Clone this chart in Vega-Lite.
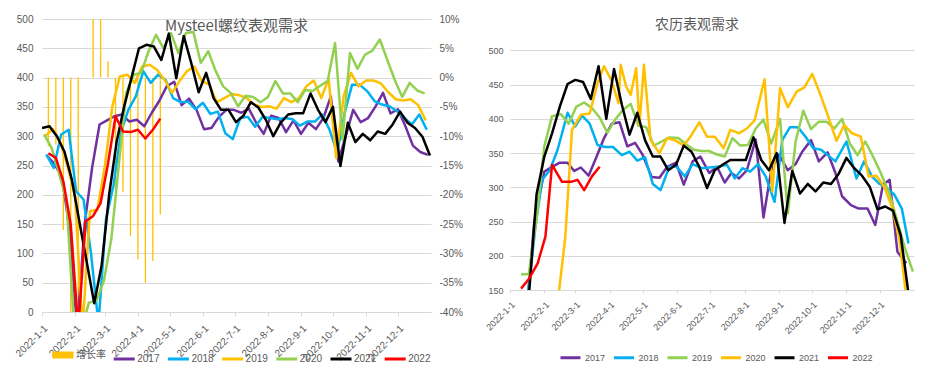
{
"$schema": "https://vega.github.io/schema/vega-lite/v6.json",
"background": "white",
"padding": {"left": 12, "top": 14, "right": 5, "bottom": 5},
"spacing": 17,
"config": {
  "font": "Liberation Sans, Noto Sans CJK SC, sans-serif",
  "view": {"stroke": null},
  "axis": {"labelColor": "#595959", "gridColor": "#D9D9D9", "domainColor": "#D9D9D9", "tickColor": "#D9D9D9", "title": null}
},
"datasets": {
"growth": [
{"s":"增长率","d":6,"v":-0.117},{"s":"增长率","d":13,"v":-0.114},{"s":"增长率","d":20,"v":-0.26},{"s":"增长率","d":27,"v":-0.46},{"s":"增长率","d":34,"v":-0.6},{"s":"增长率","d":48,"v":0.5},{"s":"增长率","d":55,"v":0.8},{"s":"增长率","d":62,"v":0.028},{"s":"增长率","d":69,"v":-0.19},{"s":"增长率","d":76,"v":-0.195},{"s":"增长率","d":83,"v":-0.27},{"s":"增长率","d":90,"v":-0.31},{"s":"增长率","d":97,"v":-0.35},{"s":"增长率","d":104,"v":-0.313},{"s":"增长率","d":111,"v":-0.233}
],
"L": [
{"s":"2017","d":5,"v":266},{"s":"2017","d":12,"v":252},{"s":"2017","d":19,"v":229},{"s":"2017","d":26,"v":138},{"s":"2017","d":33,"v":-30},{"s":"2017","d":40,"v":150},{"s":"2017","d":47,"v":246},{"s":"2017","d":54,"v":320},{"s":"2017","d":61,"v":327},{"s":"2017","d":68,"v":334},{"s":"2017","d":75,"v":337},{"s":"2017","d":82,"v":325},{"s":"2017","d":89,"v":328},{"s":"2017","d":96,"v":317},{"s":"2017","d":103,"v":340},{"s":"2017","d":110,"v":360},{"s":"2017","d":117,"v":385},{"s":"2017","d":124,"v":393},{"s":"2017","d":131,"v":353},{"s":"2017","d":138,"v":364},{"s":"2017","d":145,"v":345},{"s":"2017","d":152,"v":312},{"s":"2017","d":159,"v":314},{"s":"2017","d":166,"v":333},{"s":"2017","d":173,"v":345},{"s":"2017","d":180,"v":345},{"s":"2017","d":187,"v":340},{"s":"2017","d":194,"v":347},{"s":"2017","d":201,"v":323},{"s":"2017","d":208,"v":304},{"s":"2017","d":215,"v":335},{"s":"2017","d":222,"v":331},{"s":"2017","d":229,"v":307},{"s":"2017","d":236,"v":327},{"s":"2017","d":243,"v":304},{"s":"2017","d":250,"v":323},{"s":"2017","d":257,"v":312},{"s":"2017","d":264,"v":331},{"s":"2017","d":271,"v":368},{"s":"2017","d":278,"v":257},{"s":"2017","d":285,"v":300},{"s":"2017","d":292,"v":345},{"s":"2017","d":299,"v":324},{"s":"2017","d":306,"v":331},{"s":"2017","d":313,"v":351},{"s":"2017","d":320,"v":374},{"s":"2017","d":327,"v":339},{"s":"2017","d":334,"v":346},{"s":"2017","d":341,"v":317},{"s":"2017","d":348,"v":284},{"s":"2017","d":355,"v":273},{"s":"2017","d":362,"v":268},
{"s":"2018","d":4,"v":269},{"s":"2018","d":11,"v":246},{"s":"2018","d":18,"v":303},{"s":"2018","d":25,"v":311},{"s":"2018","d":32,"v":206},{"s":"2018","d":39,"v":192},{"s":"2018","d":46,"v":100},{"s":"2018","d":53,"v":-20},{"s":"2018","d":60,"v":158},{"s":"2018","d":67,"v":215},{"s":"2018","d":74,"v":306},{"s":"2018","d":81,"v":345},{"s":"2018","d":88,"v":368},{"s":"2018","d":95,"v":411},{"s":"2018","d":102,"v":391},{"s":"2018","d":109,"v":405},{"s":"2018","d":116,"v":396},{"s":"2018","d":123,"v":365},{"s":"2018","d":130,"v":358},{"s":"2018","d":137,"v":359},{"s":"2018","d":144,"v":346},{"s":"2018","d":151,"v":357},{"s":"2018","d":158,"v":338},{"s":"2018","d":165,"v":342},{"s":"2018","d":172,"v":305},{"s":"2018","d":179,"v":295},{"s":"2018","d":186,"v":331},{"s":"2018","d":193,"v":333},{"s":"2018","d":200,"v":316},{"s":"2018","d":207,"v":333},{"s":"2018","d":214,"v":331},{"s":"2018","d":221,"v":329},{"s":"2018","d":228,"v":331},{"s":"2018","d":235,"v":329},{"s":"2018","d":242,"v":318},{"s":"2018","d":249,"v":325},{"s":"2018","d":256,"v":325},{"s":"2018","d":263,"v":337},{"s":"2018","d":270,"v":310},{"s":"2018","d":277,"v":272},{"s":"2018","d":284,"v":340},{"s":"2018","d":291,"v":388},{"s":"2018","d":298,"v":388},{"s":"2018","d":305,"v":377},{"s":"2018","d":312,"v":360},{"s":"2018","d":319,"v":354},{"s":"2018","d":326,"v":351},{"s":"2018","d":333,"v":343},{"s":"2018","d":340,"v":331},{"s":"2018","d":347,"v":320},{"s":"2018","d":354,"v":337},{"s":"2018","d":361,"v":311},
{"s":"2019","d":3,"v":300},{"s":"2019","d":10,"v":312},{"s":"2019","d":17,"v":290},{"s":"2019","d":24,"v":249},{"s":"2019","d":31,"v":198},{"s":"2019","d":38,"v":-30},{"s":"2019","d":45,"v":172},{"s":"2019","d":52,"v":175},{"s":"2019","d":59,"v":249},{"s":"2019","d":66,"v":351},{"s":"2019","d":73,"v":402},{"s":"2019","d":80,"v":405},{"s":"2019","d":87,"v":391},{"s":"2019","d":94,"v":419},{"s":"2019","d":101,"v":422},{"s":"2019","d":108,"v":413},{"s":"2019","d":115,"v":396},{"s":"2019","d":122,"v":374},{"s":"2019","d":129,"v":394},{"s":"2019","d":136,"v":411},{"s":"2019","d":143,"v":419},{"s":"2019","d":150,"v":394},{"s":"2019","d":157,"v":388},{"s":"2019","d":164,"v":358},{"s":"2019","d":171,"v":365},{"s":"2019","d":178,"v":372},{"s":"2019","d":185,"v":370},{"s":"2019","d":192,"v":365},{"s":"2019","d":199,"v":354},{"s":"2019","d":206,"v":350},{"s":"2019","d":213,"v":351},{"s":"2019","d":220,"v":347},{"s":"2019","d":227,"v":365},{"s":"2019","d":234,"v":358},{"s":"2019","d":241,"v":365},{"s":"2019","d":248,"v":385},{"s":"2019","d":255,"v":395},{"s":"2019","d":262,"v":365},{"s":"2019","d":269,"v":398},{"s":"2019","d":276,"v":263},{"s":"2019","d":283,"v":368},{"s":"2019","d":290,"v":408},{"s":"2019","d":297,"v":385},{"s":"2019","d":304,"v":395},{"s":"2019","d":311,"v":395},{"s":"2019","d":318,"v":390},{"s":"2019","d":325,"v":375},{"s":"2019","d":332,"v":363},{"s":"2019","d":339,"v":361},{"s":"2019","d":346,"v":363},{"s":"2019","d":353,"v":353},{"s":"2019","d":360,"v":327},
{"s":"2020","d":2,"v":303},{"s":"2020","d":9,"v":280},{"s":"2020","d":16,"v":237},{"s":"2020","d":23,"v":190},{"s":"2020","d":30,"v":-20},{"s":"2020","d":37,"v":-30},{"s":"2020","d":44,"v":16},{"s":"2020","d":51,"v":19},{"s":"2020","d":58,"v":53},{"s":"2020","d":65,"v":124},{"s":"2020","d":72,"v":250},{"s":"2020","d":79,"v":374},{"s":"2020","d":86,"v":405},{"s":"2020","d":93,"v":408},{"s":"2020","d":100,"v":445},{"s":"2020","d":107,"v":473},{"s":"2020","d":114,"v":450},{"s":"2020","d":121,"v":476},{"s":"2020","d":128,"v":442},{"s":"2020","d":135,"v":476},{"s":"2020","d":142,"v":478},{"s":"2020","d":149,"v":425},{"s":"2020","d":156,"v":445},{"s":"2020","d":163,"v":411},{"s":"2020","d":170,"v":385},{"s":"2020","d":177,"v":374},{"s":"2020","d":184,"v":351},{"s":"2020","d":191,"v":369},{"s":"2020","d":198,"v":367},{"s":"2020","d":205,"v":358},{"s":"2020","d":212,"v":367},{"s":"2020","d":219,"v":394},{"s":"2020","d":226,"v":373},{"s":"2020","d":233,"v":373},{"s":"2020","d":240,"v":358},{"s":"2020","d":247,"v":379},{"s":"2020","d":254,"v":377},{"s":"2020","d":261,"v":386},{"s":"2020","d":268,"v":394},{"s":"2020","d":275,"v":459},{"s":"2020","d":282,"v":294},{"s":"2020","d":289,"v":442},{"s":"2020","d":296,"v":415},{"s":"2020","d":303,"v":439},{"s":"2020","d":310,"v":446},{"s":"2020","d":317,"v":465},{"s":"2020","d":324,"v":430},{"s":"2020","d":331,"v":396},{"s":"2020","d":338,"v":367},{"s":"2020","d":345,"v":391},{"s":"2020","d":352,"v":378},{"s":"2020","d":359,"v":373},
{"s":"2021","d":0,"v":314},{"s":"2021","d":7,"v":317},{"s":"2021","d":14,"v":300},{"s":"2021","d":21,"v":274},{"s":"2021","d":28,"v":226},{"s":"2021","d":35,"v":155},{"s":"2021","d":42,"v":85},{"s":"2021","d":49,"v":15},{"s":"2021","d":56,"v":80},{"s":"2021","d":63,"v":200},{"s":"2021","d":70,"v":290},{"s":"2021","d":77,"v":350},{"s":"2021","d":84,"v":400},{"s":"2021","d":91,"v":450},{"s":"2021","d":98,"v":456},{"s":"2021","d":105,"v":453},{"s":"2021","d":112,"v":430},{"s":"2021","d":119,"v":475},{"s":"2021","d":126,"v":399},{"s":"2021","d":133,"v":471},{"s":"2021","d":140,"v":425},{"s":"2021","d":147,"v":375},{"s":"2021","d":154,"v":408},{"s":"2021","d":161,"v":365},{"s":"2021","d":168,"v":345},{"s":"2021","d":175,"v":345},{"s":"2021","d":182,"v":324},{"s":"2021","d":189,"v":335},{"s":"2021","d":196,"v":358},{"s":"2021","d":203,"v":349},{"s":"2021","d":210,"v":328},{"s":"2021","d":217,"v":300},{"s":"2021","d":224,"v":323},{"s":"2021","d":231,"v":337},{"s":"2021","d":238,"v":339},{"s":"2021","d":245,"v":339},{"s":"2021","d":252,"v":373},{"s":"2021","d":259,"v":345},{"s":"2021","d":266,"v":324},{"s":"2021","d":273,"v":350},{"s":"2021","d":280,"v":249},{"s":"2021","d":287,"v":323},{"s":"2021","d":294,"v":290},{"s":"2021","d":301,"v":304},{"s":"2021","d":308,"v":293},{"s":"2021","d":315,"v":308},{"s":"2021","d":322,"v":304},{"s":"2021","d":329,"v":320},{"s":"2021","d":336,"v":342},{"s":"2021","d":343,"v":323},{"s":"2021","d":350,"v":314},{"s":"2021","d":357,"v":299},{"s":"2021","d":364,"v":267},
{"s":"2022","d":6,"v":271},{"s":"2022","d":13,"v":263},{"s":"2022","d":20,"v":223},{"s":"2022","d":27,"v":149},{"s":"2022","d":34,"v":-30},{"s":"2022","d":41,"v":155},{"s":"2022","d":48,"v":164},{"s":"2022","d":55,"v":186},{"s":"2022","d":62,"v":254},{"s":"2022","d":69,"v":334},{"s":"2022","d":76,"v":308},{"s":"2022","d":83,"v":307},{"s":"2022","d":90,"v":311},{"s":"2022","d":97,"v":296},{"s":"2022","d":104,"v":311},{"s":"2022","d":111,"v":330}
],
"R": [
{"s":"2017","d":15,"v":120},{"s":"2017","d":22,"v":250},{"s":"2017","d":31,"v":323},{"s":"2017","d":38,"v":330},{"s":"2017","d":45,"v":336},{"s":"2017","d":52,"v":336},{"s":"2017","d":58,"v":324},{"s":"2017","d":64,"v":329},{"s":"2017","d":71,"v":317},{"s":"2017","d":78,"v":344},{"s":"2017","d":85,"v":372},{"s":"2017","d":92,"v":393},{"s":"2017","d":99,"v":395},{"s":"2017","d":106,"v":360},{"s":"2017","d":113,"v":365},{"s":"2017","d":120,"v":347},{"s":"2017","d":128,"v":315},{"s":"2017","d":135,"v":314},{"s":"2017","d":142,"v":330},{"s":"2017","d":150,"v":336},{"s":"2017","d":157,"v":304},{"s":"2017","d":165,"v":338},{"s":"2017","d":172,"v":345},{"s":"2017","d":180,"v":321},{"s":"2017","d":187,"v":330},{"s":"2017","d":194,"v":307},{"s":"2017","d":200,"v":321},{"s":"2017","d":207,"v":313},{"s":"2017","d":214,"v":325},{"s":"2017","d":222,"v":370},{"s":"2017","d":229,"v":256},{"s":"2017","d":236,"v":325},{"s":"2017","d":243,"v":348},{"s":"2017","d":251,"v":325},{"s":"2017","d":258,"v":334},{"s":"2017","d":264,"v":352},{"s":"2017","d":272,"v":369},{"s":"2017","d":279,"v":338},{"s":"2017","d":287,"v":351},{"s":"2017","d":294,"v":321},{"s":"2017","d":300,"v":287},{"s":"2017","d":308,"v":274},{"s":"2017","d":315,"v":269},{"s":"2017","d":323,"v":269},{"s":"2017","d":330,"v":245},{"s":"2017","d":337,"v":304},{"s":"2017","d":343,"v":311},{"s":"2017","d":350,"v":206},{"s":"2017","d":358,"v":189},
{"s":"2018","d":16,"v":140},{"s":"2018","d":23,"v":243},{"s":"2018","d":29,"v":311},{"s":"2018","d":36,"v":325},{"s":"2018","d":43,"v":355},{"s":"2018","d":52,"v":409},{"s":"2018","d":59,"v":389},{"s":"2018","d":65,"v":405},{"s":"2018","d":72,"v":393},{"s":"2018","d":79,"v":362},{"s":"2018","d":86,"v":359},{"s":"2018","d":93,"v":359},{"s":"2018","d":101,"v":347},{"s":"2018","d":108,"v":352},{"s":"2018","d":115,"v":339},{"s":"2018","d":122,"v":344},{"s":"2018","d":129,"v":305},{"s":"2018","d":136,"v":296},{"s":"2018","d":144,"v":330},{"s":"2018","d":150,"v":331},{"s":"2018","d":158,"v":316},{"s":"2018","d":165,"v":334},{"s":"2018","d":173,"v":328},{"s":"2018","d":180,"v":329},{"s":"2018","d":188,"v":330},{"s":"2018","d":196,"v":333},{"s":"2018","d":203,"v":313},{"s":"2018","d":210,"v":328},{"s":"2018","d":217,"v":323},{"s":"2018","d":224,"v":334},{"s":"2018","d":231,"v":316},{"s":"2018","d":239,"v":279},{"s":"2018","d":246,"v":369},{"s":"2018","d":253,"v":388},{"s":"2018","d":260,"v":388},{"s":"2018","d":267,"v":374},{"s":"2018","d":274,"v":357},{"s":"2018","d":281,"v":355},{"s":"2018","d":288,"v":346},{"s":"2018","d":294,"v":338},{"s":"2018","d":304,"v":367},{"s":"2018","d":313,"v":313},{"s":"2018","d":320,"v":338},{"s":"2018","d":327,"v":316},{"s":"2018","d":333,"v":306},{"s":"2018","d":340,"v":299},{"s":"2018","d":347,"v":290},{"s":"2018","d":354,"v":269},{"s":"2018","d":360,"v":218},
{"s":"2019","d":10,"v":173},{"s":"2019","d":17,"v":173},{"s":"2019","d":24,"v":255},{"s":"2019","d":31,"v":360},{"s":"2019","d":38,"v":404},{"s":"2019","d":46,"v":407},{"s":"2019","d":53,"v":393},{"s":"2019","d":60,"v":418},{"s":"2019","d":67,"v":424},{"s":"2019","d":74,"v":416},{"s":"2019","d":81,"v":402},{"s":"2019","d":88,"v":380},{"s":"2019","d":95,"v":399},{"s":"2019","d":102,"v":413},{"s":"2019","d":109,"v":422},{"s":"2019","d":116,"v":390},{"s":"2019","d":123,"v":388},{"s":"2019","d":130,"v":361},{"s":"2019","d":137,"v":367},{"s":"2019","d":144,"v":373},{"s":"2019","d":152,"v":372},{"s":"2019","d":159,"v":363},{"s":"2019","d":166,"v":355},{"s":"2019","d":173,"v":353},{"s":"2019","d":180,"v":353},{"s":"2019","d":187,"v":348},{"s":"2019","d":194,"v":345},{"s":"2019","d":201,"v":372},{"s":"2019","d":208,"v":361},{"s":"2019","d":215,"v":362},{"s":"2019","d":222,"v":386},{"s":"2019","d":229,"v":399},{"s":"2019","d":236,"v":364},{"s":"2019","d":244,"v":400},{"s":"2019","d":251,"v":262},{"s":"2019","d":258,"v":367},{"s":"2019","d":265,"v":412},{"s":"2019","d":272,"v":385},{"s":"2019","d":279,"v":396},{"s":"2019","d":286,"v":396},{"s":"2019","d":293,"v":386},{"s":"2019","d":300,"v":400},{"s":"2019","d":307,"v":364},{"s":"2019","d":314,"v":347},{"s":"2019","d":321,"v":367},{"s":"2019","d":328,"v":345},{"s":"2019","d":335,"v":321},{"s":"2019","d":343,"v":290},{"s":"2019","d":350,"v":250},{"s":"2019","d":357,"v":210},{"s":"2019","d":364,"v":177},
{"s":"2020","d":38,"v":60},{"s":"2020","d":50,"v":228},{"s":"2020","d":56,"v":384},{"s":"2020","d":64,"v":406},{"s":"2020","d":72,"v":408},{"s":"2020","d":79,"v":452},{"s":"2020","d":85,"v":477},{"s":"2020","d":92,"v":455},{"s":"2020","d":98,"v":423},{"s":"2020","d":100,"v":479},{"s":"2020","d":105,"v":447},{"s":"2020","d":109,"v":435},{"s":"2020","d":114,"v":474},{"s":"2020","d":117,"v":391},{"s":"2020","d":121,"v":479},{"s":"2020","d":127,"v":369},{"s":"2020","d":135,"v":350},{"s":"2020","d":142,"v":372},{"s":"2020","d":150,"v":368},{"s":"2020","d":157,"v":361},{"s":"2020","d":163,"v":374},{"s":"2020","d":171,"v":395},{"s":"2020","d":178,"v":374},{"s":"2020","d":185,"v":374},{"s":"2020","d":193,"v":357},{"s":"2020","d":199,"v":384},{"s":"2020","d":207,"v":379},{"s":"2020","d":214,"v":386},{"s":"2020","d":221,"v":398},{"s":"2020","d":230,"v":458},{"s":"2020","d":237,"v":294},{"s":"2020","d":244,"v":445},{"s":"2020","d":251,"v":417},{"s":"2020","d":259,"v":440},{"s":"2020","d":266,"v":446},{"s":"2020","d":273,"v":466},{"s":"2020","d":281,"v":433},{"s":"2020","d":288,"v":401},{"s":"2020","d":295,"v":368},{"s":"2020","d":302,"v":391},{"s":"2020","d":309,"v":379},{"s":"2020","d":317,"v":374},{"s":"2020","d":324,"v":316},{"s":"2020","d":331,"v":317},{"s":"2020","d":338,"v":301},{"s":"2020","d":345,"v":272},{"s":"2020","d":352,"v":223},{"s":"2020","d":358,"v":140},
{"s":"2021","d":17,"v":140},{"s":"2021","d":24,"v":290},{"s":"2021","d":31,"v":345},{"s":"2021","d":38,"v":379},{"s":"2021","d":45,"v":418},{"s":"2021","d":52,"v":451},{"s":"2021","d":59,"v":457},{"s":"2021","d":66,"v":454},{"s":"2021","d":73,"v":429},{"s":"2021","d":80,"v":477},{"s":"2021","d":87,"v":400},{"s":"2021","d":94,"v":473},{"s":"2021","d":101,"v":421},{"s":"2021","d":108,"v":377},{"s":"2021","d":115,"v":409},{"s":"2021","d":122,"v":369},{"s":"2021","d":129,"v":345},{"s":"2021","d":136,"v":345},{"s":"2021","d":143,"v":325},{"s":"2021","d":150,"v":333},{"s":"2021","d":157,"v":361},{"s":"2021","d":164,"v":352},{"s":"2021","d":171,"v":330},{"s":"2021","d":178,"v":299},{"s":"2021","d":185,"v":325},{"s":"2021","d":192,"v":333},{"s":"2021","d":199,"v":340},{"s":"2021","d":206,"v":340},{"s":"2021","d":213,"v":340},{"s":"2021","d":220,"v":373},{"s":"2021","d":227,"v":340},{"s":"2021","d":234,"v":325},{"s":"2021","d":241,"v":350},{"s":"2021","d":248,"v":248},{"s":"2021","d":255,"v":324},{"s":"2021","d":262,"v":291},{"s":"2021","d":269,"v":305},{"s":"2021","d":276,"v":294},{"s":"2021","d":283,"v":307},{"s":"2021","d":290,"v":305},{"s":"2021","d":297,"v":320},{"s":"2021","d":304,"v":343},{"s":"2021","d":311,"v":328},{"s":"2021","d":318,"v":317},{"s":"2021","d":325,"v":301},{"s":"2021","d":332,"v":268},{"s":"2021","d":339,"v":272},{"s":"2021","d":346,"v":266},{"s":"2021","d":353,"v":230},{"s":"2021","d":360,"v":145},
{"s":"2022","d":10,"v":152},{"s":"2022","d":17,"v":166},{"s":"2022","d":25,"v":189},{"s":"2022","d":32,"v":228},{"s":"2022","d":38,"v":333},{"s":"2022","d":47,"v":308},{"s":"2022","d":55,"v":308},{"s":"2022","d":61,"v":311},{"s":"2022","d":67,"v":296},{"s":"2022","d":74,"v":316},{"s":"2022","d":81,"v":330}
]
},
"hconcat": [
{
  "width": 389,
  "height": 293,
  "title": {"text": "Mysteel螺纹表观需求", "anchor": "middle", "frame": "group", "offset": -20, "fontSize": 15, "font": "Noto Sans CJK SC", "fontWeight": "normal", "color": "#595959"},
  "layer": [
    {
      "data": {"name": "growth"},
      "mark": {"type": "rule", "strokeWidth": 1.3, "clip": true},
      "encoding": {
        "x": {"field": "d", "type": "quantitative", "scale": {"domain": [0, 365], "nice": false, "zero": false},
              "axis": {"values": [0,31,59,90,120,151,181,212,243,273,304,334], "labelExpr": "'2022-' + (indexof([0,31,59,90,120,151,181,212,243,273,304,334], datum.value) + 1) + '-1'", "labelAngle": -45, "labelFlush": false, "labelOverlap": false, "labelBound": false, "grid": false, "tickSize": 4, "labelPadding": 7, "labelFontSize": 10}},
        "y": {"field": "v", "type": "quantitative", "scale": {"domain": [-0.4, 0.1], "nice": false, "zero": false},
              "axis": {"orient": "right", "values": [-0.4,-0.35,-0.3,-0.25,-0.2,-0.15,-0.1,-0.05,0,0.05,0.1], "labelExpr": "replace(format(datum.value, '.0%'), '−', '-')", "grid": false, "domain": false, "ticks": false, "tickSize": 0, "labelPadding": 8, "labelFontSize": 10, "minExtent": 32, "maxExtent": 32}},
        "y2": {"datum": 0},
        "color": {"field": "s", "type": "nominal",
                  "scale": {"domain": ["增长率","2017","2018","2019","2020","2021","2022"], "range": ["#FFC000","#7030A0","#00B0F0","#FFC000","#92D050","#000000","#FF0000"]},
                  "legend": {"orient": "none", "legendX": 16, "legendY": 331, "direction": "horizontal", "columns": 7, "title": null, "symbolType": "stroke", "symbolSize": 441, "symbolStrokeWidth": 3, "labelFontSize": 10, "labelColor": "#595959", "labelOffset": 8, "columnPadding": 1.2,
                             "encode": {"symbols": {"update": {"strokeWidth": {"signal": "datum.value === '增长率' ? 7 : 3"}}}}}}
      }
    },
    {
      "data": {"name": "L"},
      "mark": {"type": "line", "strokeWidth": 2.5, "strokeJoin": "round", "clip": true},
      "encoding": {
        "x": {"field": "d", "type": "quantitative", "scale": {"domain": [0, 365], "nice": false, "zero": false},
              "axis": {"values": [0,31,59,90,120,151,181,212,243,273,304,334], "labelExpr": "'2022-' + (indexof([0,31,59,90,120,151,181,212,243,273,304,334], datum.value) + 1) + '-1'", "labelAngle": -45, "labelFlush": false, "labelOverlap": false, "labelBound": false, "grid": false, "tickSize": 4, "labelPadding": 7, "labelFontSize": 10}},
        "y": {"field": "v", "type": "quantitative", "scale": {"domain": [0, 500], "nice": false, "zero": false},
              "axis": {"orient": "left", "values": [0,50,100,150,200,250,300,350,400,450,500], "grid": true, "domain": false, "ticks": false, "tickSize": 0, "labelPadding": 9, "labelFontSize": 10, "minExtent": 30, "maxExtent": 30}},
        "color": {"field": "s", "type": "nominal"}
      }
    }
  ],
  "resolve": {"scale": {"y": "independent"}}
},
{
  "width": 404,
  "height": 271,
  "title": {"text": "农历表观需求", "anchor": "middle", "frame": "bounds", "offset": -13, "fontSize": 14, "font": "Noto Sans CJK SC", "fontWeight": "normal", "color": "#595959"},
  "data": {"name": "R"},
  "mark": {"type": "line", "strokeWidth": 2.5, "strokeJoin": "round", "clip": true},
  "encoding": {
    "x": {"field": "d", "type": "quantitative", "scale": {"domain": [0, 365], "nice": false, "zero": false},
          "axis": {"values": [0,31,59,90,120,151,181,212,243,273,304,334], "labelExpr": "'2022-' + (indexof([0,31,59,90,120,151,181,212,243,273,304,334], datum.value) + 1) + '-1'", "labelAngle": -45, "labelFlush": false, "labelOverlap": false, "labelBound": false, "grid": false, "tickSize": 3, "labelPadding": 7, "labelFontSize": 9}},
    "y": {"field": "v", "type": "quantitative", "scale": {"domain": [150, 546], "nice": false, "zero": false},
          "axis": {"values": [150,200,250,300,350,400,450,500], "grid": true, "domain": false, "ticks": false, "tickSize": 0, "labelPadding": 7, "labelFontSize": 9, "minExtent": 30, "maxExtent": 30}},
    "color": {"field": "s", "type": "nominal",
              "scale": {"domain": ["2017","2018","2019","2020","2021","2022"], "range": ["#7030A0","#00B0F0","#92D050","#FFC000","#000000","#FF0000"]},
              "legend": {"orient": "none", "legendX": 49, "legendY": 327, "direction": "horizontal", "columns": 6, "title": null, "symbolType": "stroke", "symbolSize": 400, "symbolStrokeWidth": 3, "labelFontSize": 9, "labelColor": "#595959", "labelOffset": 3, "columnPadding": 1.5}}
  }
}
],
"resolve": {"scale": {"color": "independent", "x": "independent", "y": "independent"}, "legend": {"color": "independent"}}
}
